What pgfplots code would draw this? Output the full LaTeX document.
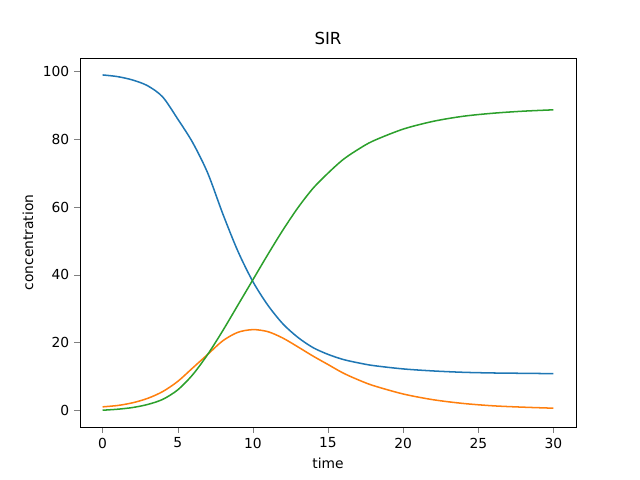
\documentclass[border=0pt]{standalone}
\usepackage{pgfplots}
\pgfplotsset{compat=1.18}
\usepackage{fontspec}
\setmainfont{DejaVu Sans}
\definecolor{c1}{HTML}{1F77B4}
\definecolor{c2}{HTML}{FF7F0E}
\definecolor{c3}{HTML}{2CA02C}
\begin{document}
\begin{tikzpicture}
\useasboundingbox (-0.8in,-0.53in) rectangle (5.6in,4.27in);
\begin{axis}[at={(0,0)},anchor=south west,scale only axis,width=4.96in,height=3.69in,
 xmin=-1.5,xmax=31.5,ymin=-4.95,ymax=104.0,
 xtick={0,5,...,30},ytick={0,20,...,100},
 tick align=outside,tick pos=left,
 /pgf/number format/assume math mode=true,
 ticklabel style={font=\fontsize{10}{12}\selectfont},
 label style={font=\fontsize{10}{12}\selectfont},
 xlabel={time},ylabel={concentration},
 title={SIR},title style={font=\fontsize{12}{14}\selectfont},
 every axis plot/.append style={line width=1.1pt,no marks,smooth}]
\addplot[c1] coordinates {(0,99)(1,98.5)(2,97.5)(3,95.8)(4,92.5)(5,86)(6,79)(7,70)(8,58)(9,47)(10,38)(11,31)(12,25.5)(13,21.5)(14,18.5)(15,16.5)(16,15)(17,14)(18,13.2)(20,12.2)(22,11.6)(24,11.2)(26,11)(28,10.9)(30,10.8)};
\addplot[c2] coordinates {(0,1)(1,1.4)(2,2.2)(3,3.5)(4,5.5)(5,8.5)(6,12.5)(7,16.5)(8,20.5)(9,23)(10,23.8)(11,23.2)(12,21.3)(13,18.7)(14,16)(15,13.5)(16,11)(17,9)(18,7.3)(20,4.8)(22,3.1)(24,2)(26,1.3)(28,0.9)(30,0.6)};
\addplot[c3] coordinates {(0,0)(1,0.3)(2,0.8)(3,1.7)(4,3.2)(5,6)(6,10.5)(7,16.5)(8,23.5)(9,31)(10,38.5)(11,46)(12,53.2)(13,59.8)(14,65.5)(15,70)(16,74)(17,77)(18,79.5)(20,83)(22,85.3)(24,86.8)(26,87.7)(28,88.3)(30,88.7)};
\end{axis}
\end{tikzpicture}
\end{document}
